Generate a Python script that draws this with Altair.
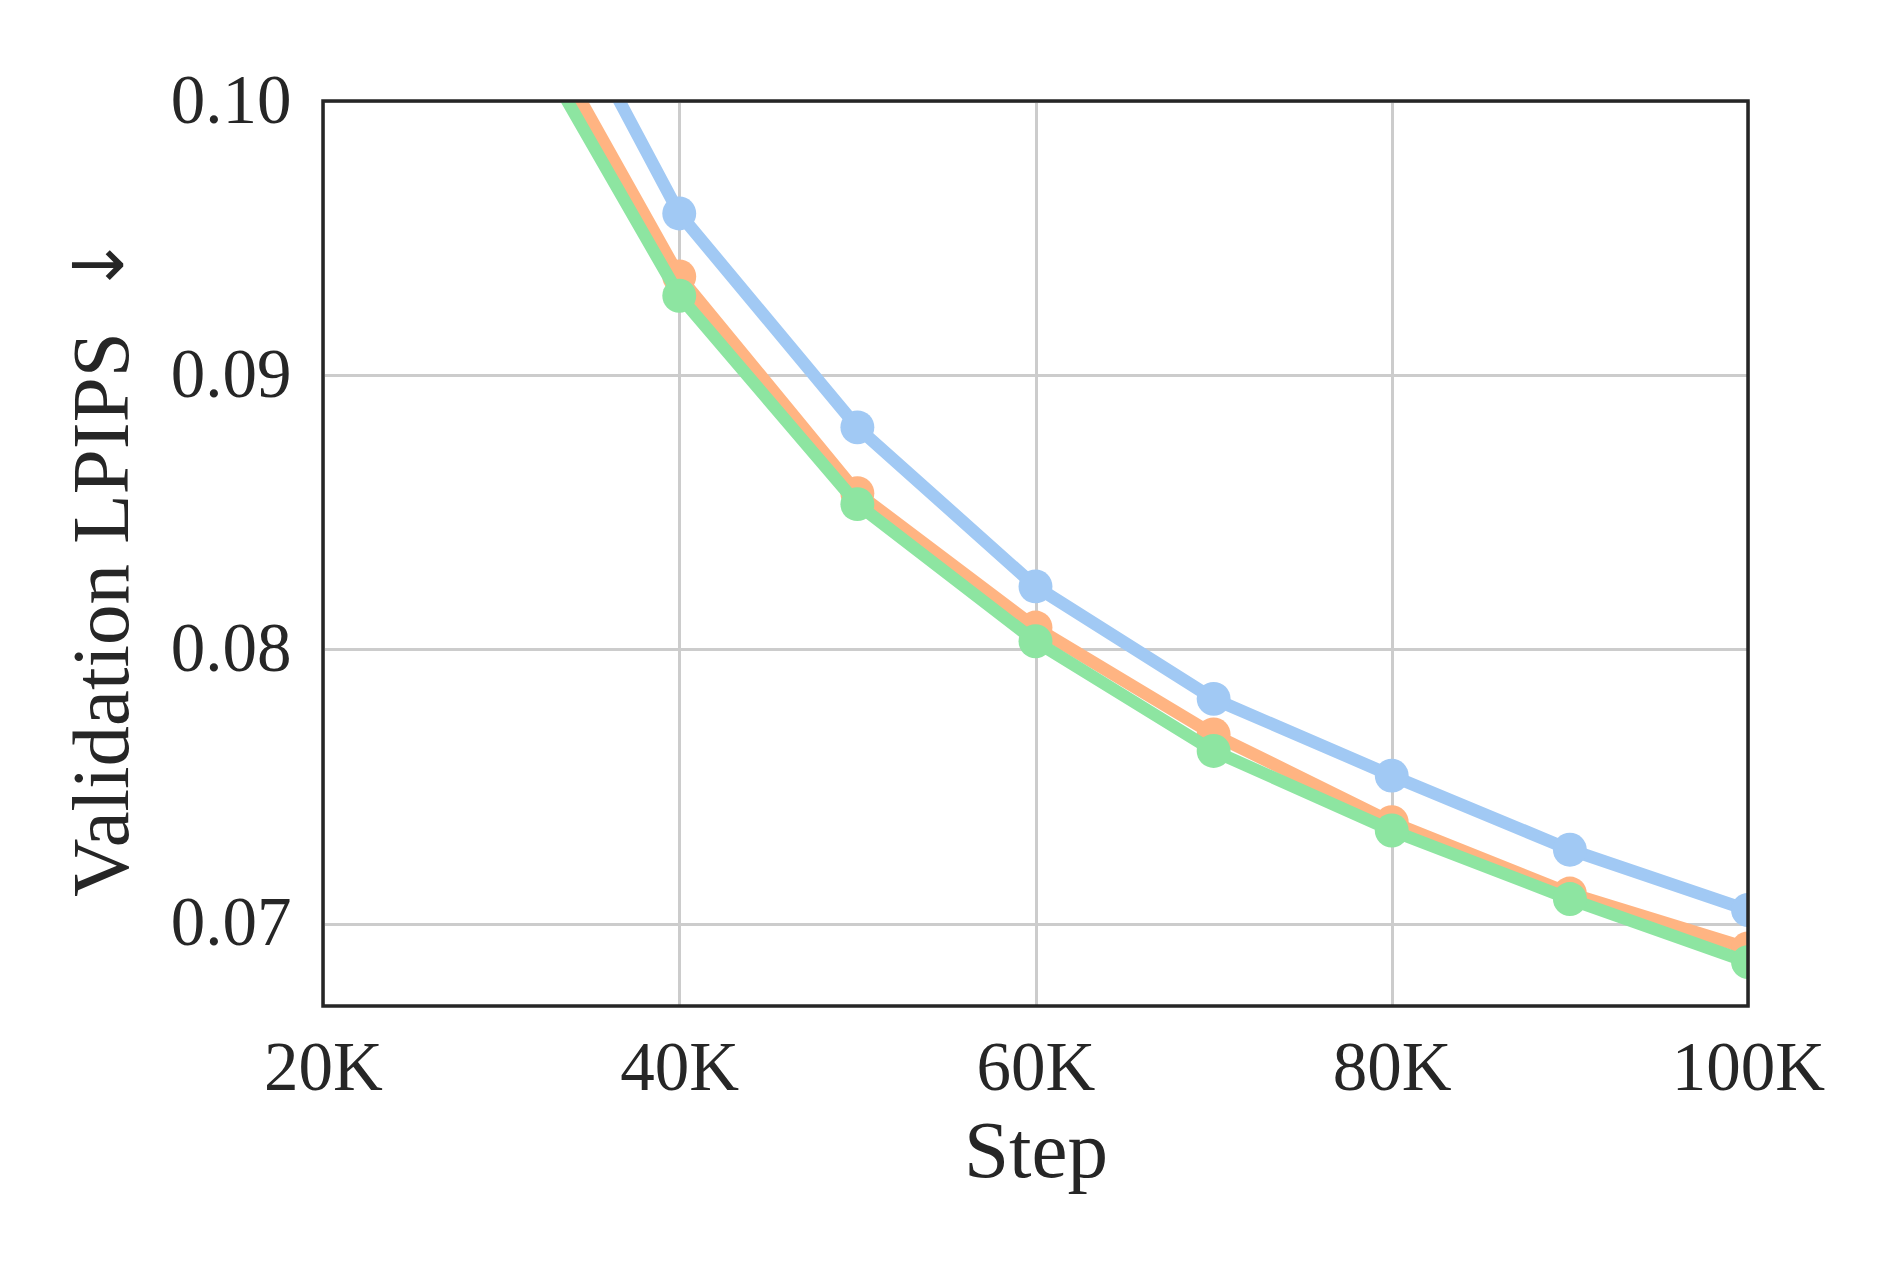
import altair as alt
import pandas as pd

steps = [30000, 40000, 50000, 60000, 70000, 80000, 90000, 100000]
blue_vals = [0.1081, 0.0959, 0.0881, 0.0823, 0.0782, 0.0754, 0.0727, 0.0705]
orange_vals = [0.1052, 0.0936, 0.0857, 0.0808, 0.0769, 0.0737, 0.0711, 0.0691]
green_vals = [0.1042, 0.0929, 0.0853, 0.0803, 0.0763, 0.0734, 0.0709, 0.0686]

series = [
    ("Series A", blue_vals, "#a1c9f4"),
    ("Series B", orange_vals, "#ffb482"),
    ("Series C", green_vals, "#8de5a1"),
]

x_ticks = [20000, 40000, 60000, 80000, 100000]
y_ticks = [0.07, 0.08, 0.09, 0.10]
y_title = "Validation LPIPS"
arrow_text = ["\u2193"]

FONT = "Liberation Serif"
TXT = "#262626"
W, H = 1425, 905

x_enc = alt.X(
    "step:Q",
    scale=alt.Scale(domain=[20000, 100000], nice=False, zero=False),
    axis=alt.Axis(
        values=x_ticks,
        labelExpr="(datum.value / 1000) + 'K'",
        title="Step",
        grid=True,
        gridColor="#cccccc",
        gridWidth=3,
        domain=False,
        ticks=False,
        labelFont=FONT,
        labelFontSize=69,
        labelColor=TXT,
        labelPadding=28,
        labelFlush=False,
        titleFont=FONT,
        titleFontSize=81,
        titleFontWeight="normal",
        titleColor=TXT,
        titlePadding=9,
    ),
)
y_enc = alt.Y(
    "value:Q",
    scale=alt.Scale(domain=[0.067, 0.10], nice=False, zero=False),
    axis=alt.Axis(
        values=y_ticks,
        format=".2f",
        title=y_title,
        grid=True,
        gridColor="#cccccc",
        gridWidth=3,
        domain=False,
        ticks=False,
        labelFont=FONT,
        labelFontSize=69,
        labelColor=TXT,
        labelPadding=32,
        labelFlush=False,
        titleFont=FONT,
        titleFontSize=81,
        titleFontWeight="normal",
        titleColor=TXT,
        titlePadding=26,
        titleY=513,
    ),
)

layers = []
for name, vals, col in series:
    df = pd.DataFrame({"step": steps, "value": vals, "series": name})
    base = alt.Chart(df).encode(x=x_enc, y=y_enc)
    layers.append(base.mark_line(color=col, strokeWidth=12.5, clip=True))
    layers.append(base.mark_circle(color=col, size=1150, opacity=1, clip=True))

frame = alt.Chart(pd.DataFrame({"k": [0]})).mark_rect(
    filled=False, stroke=TXT, strokeWidth=3.5
).encode(x=alt.value(0), x2=alt.value(W), y=alt.value(0), y2=alt.value(H))

arrow = alt.Chart(pd.DataFrame({"t": arrow_text})).mark_text(
    font="DejaVu Sans", fontSize=70, angle=270, align="center", baseline="middle",
    color=TXT,
).encode(text="t:N", x=alt.value(-221), y=alt.value(164))

chart = (
    alt.layer(*layers, frame, arrow)
    .properties(
        width=W,
        height=H,
        padding={"left": 315, "top": 93, "right": 140, "bottom": 240},
        autosize=alt.AutoSizeParams(type="none"),
        background="white",
    )
    .configure_view(strokeWidth=0)
)

chart.save("out.html", embed_options={"renderer": "svg", "actions": False})
